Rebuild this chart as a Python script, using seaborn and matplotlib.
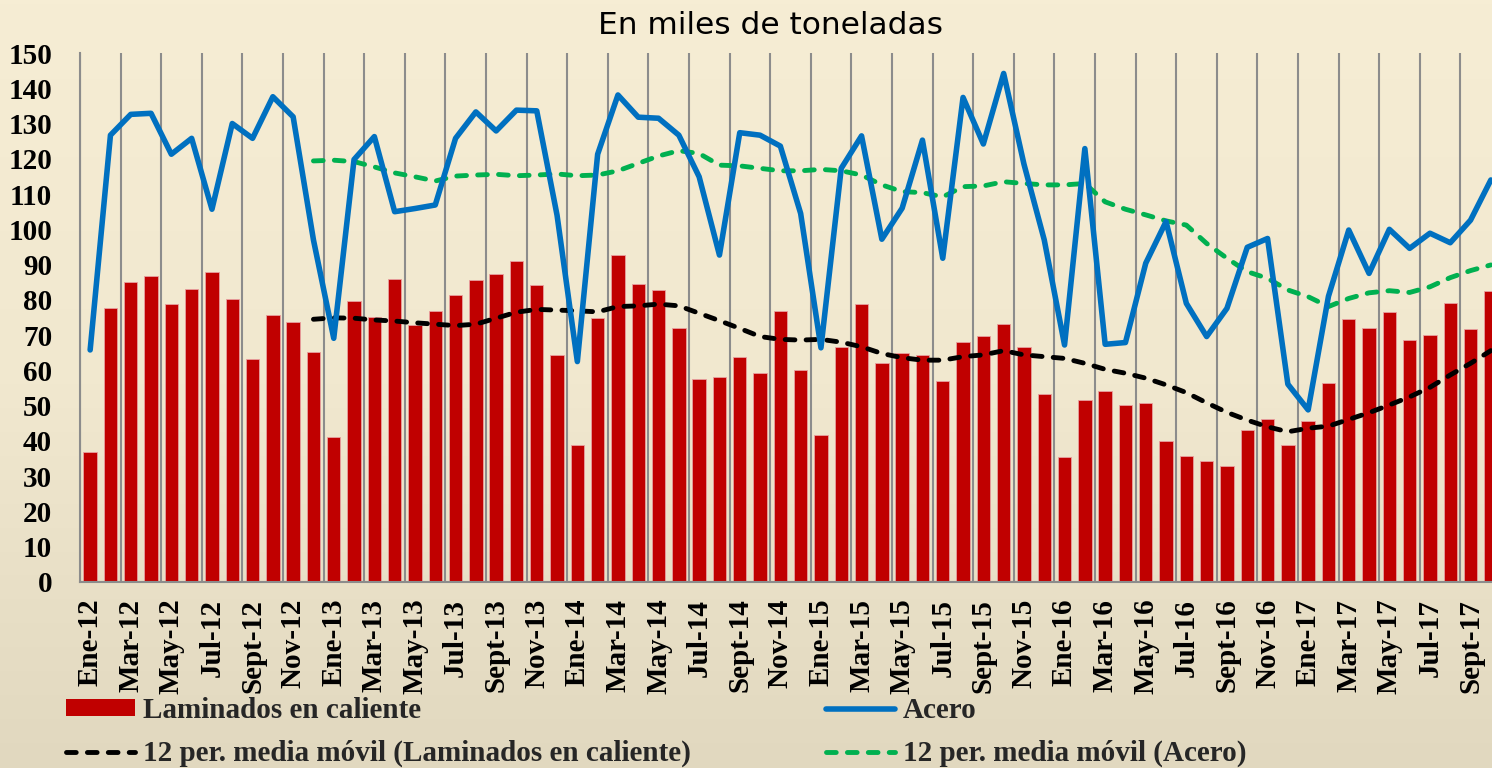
import numpy as np
import matplotlib
matplotlib.use('Agg')
import matplotlib.pyplot as plt
import matplotlib.colors as mcolors
from matplotlib.patches import Patch
from matplotlib.lines import Line2D
from matplotlib.font_manager import FontProperties
import seaborn as sns

# Meses Ene-12 .. Oct-17
MESES = ['Ene', 'Feb', 'Mar', 'Abr', 'May', 'Jun', 'Jul', 'Ago', 'Sept', 'Oct', 'Nov', 'Dic']
meses = [f"{m}-{a}" for a in range(12, 18) for m in MESES][:70]

# Laminados en caliente (miles de toneladas)
laminados = [37.0, 77.6, 85.1, 86.8, 78.7, 83.2, 88.0, 80.3, 63.1, 75.6, 73.7, 65.2,
             41.0, 79.8, 75.2, 85.8, 72.9, 76.9, 81.4, 85.6, 87.3, 91.0, 84.3, 64.3,
             38.8, 74.9, 92.6, 84.6, 82.8, 72.1, 57.5, 58.1, 63.8, 59.3, 76.8, 60.2,
             41.8, 66.6, 78.7, 62.1, 64.8, 64.3, 57.0, 68.0, 69.7, 73.1, 66.5, 53.4,
             35.4, 51.7, 54.2, 50.1, 50.7, 39.9, 35.8, 34.2, 32.8, 43.0, 46.2, 38.8,
             45.6, 56.3, 74.7, 71.9, 76.7, 68.6, 70.1, 79.0, 71.7, 82.5]

# Acero (miles de toneladas)
acero = [65.8, 126.7, 132.6, 132.9, 121.3, 125.8, 105.7, 130.0, 125.8, 137.6, 131.9, 97.0,
         69.1, 119.8, 126.3, 105.0, 105.9, 106.9, 125.8, 133.3, 127.9, 133.8, 133.6, 104.0,
         62.5, 121.3, 138.1, 131.8, 131.5, 126.7, 114.9, 92.7, 127.4, 126.7, 123.6, 104.5,
         66.4, 117.3, 126.5, 97.2, 106.0, 125.3, 91.8, 137.4, 124.2, 144.2, 118.5, 97.0,
         67.2, 122.9, 67.4, 67.9, 90.4, 102.2, 79.0, 69.6, 77.6, 94.9, 97.4, 56.1,
         48.8, 81.0, 99.8, 87.5, 100.0, 94.6, 98.9, 96.2, 102.6, 114.0]

# Medias moviles de 12 periodos (desde Dic-12)
mm_laminados = [74.5, 74.9, 74.8, 74.3, 74.0, 73.5, 73.1, 72.7, 73.1, 74.8,
                76.5, 77.3, 77.1, 76.9, 76.6, 78.1, 78.3, 78.8, 78.3, 76.2,
                74.1, 71.9, 69.6, 68.8, 68.6, 68.8, 68.0, 66.7, 64.8, 63.6,
                62.9, 62.9, 63.9, 64.4, 65.6, 64.4, 63.9, 63.4, 62.0, 60.3,
                59.2, 57.8, 55.9, 53.7, 50.8, 48.1, 45.9, 44.0, 42.6, 43.6,
                44.2, 46.1, 48.0, 50.2, 52.5, 55.2, 58.7, 62.0, 65.6]
mm_acero = [119.4, 119.6, 119.2, 117.7, 116.0, 114.9, 113.7, 115.1, 115.4, 115.6,
            115.2, 115.4, 115.7, 115.2, 115.4, 116.6, 118.7, 120.8, 122.3, 121.5,
            118.2, 118.0, 117.3, 116.6, 116.6, 117.0, 116.6, 115.4, 112.6, 110.7,
            110.4, 109.2, 112.1, 112.3, 113.5, 113.0, 112.6, 112.6, 113.0, 107.8,
            105.7, 104.1, 102.4, 101.2, 96.0, 91.8, 88.0, 86.1, 82.8, 80.9,
            78.1, 80.4, 82.0, 82.6, 82.1, 83.7, 86.3, 88.3, 89.9]

ROJO = '#C00000'
AZUL = '#0070C0'
VERDE = '#00B050'
GRIS = '#8C8C8C'
FUENTE = 'Liberation Serif'
GUION = (0, (2.0, 2.3))

sns.set_theme(style='white')
plt.rcParams['font.family'] = ['DejaVu Sans']

fig = plt.figure(figsize=(14.92, 7.68), dpi=100)

# Fondo degradado
bg = fig.add_axes([0, 0, 1, 1], zorder=-10)
cmap = mcolors.LinearSegmentedColormap.from_list('bg', ['#F6EDD4', '#F1E8CF', '#E1D8BF'])
bg.imshow(np.linspace(0, 1, 256).reshape(-1, 1), aspect='auto', cmap=cmap,
          extent=[0, 1, 0, 1])
bg.set_axis_off()

ax = fig.add_axes([80 / 1492, 186 / 768, 1421 / 1492, 529 / 768])
ax.set_facecolor('none')

idx = np.arange(len(meses))
sns.barplot(x=meses, y=laminados, color=ROJO, saturation=1, width=0.66,
            edgecolor='#E8A0A0', linewidth=0.6, ax=ax, zorder=2)
sns.lineplot(x=idx, y=acero, color=AZUL, linewidth=4.0, ax=ax, zorder=4,
             solid_joinstyle='round', solid_capstyle='round')
sns.lineplot(x=idx[11:], y=mm_laminados, color='black', linewidth=3.5, ax=ax, zorder=3,
             linestyle=GUION, dash_capstyle='round')
sns.lineplot(x=idx[11:], y=mm_acero, color=VERDE, linewidth=3.5, ax=ax, zorder=3,
             linestyle=GUION, dash_capstyle='round')

ax.set_xlim(-0.5, 69.5)
ax.set_ylim(0, 150)
ax.set_yticks(np.arange(0, 151, 10))
ax.set_xticks(idx[::2])
ax.set_xticklabels(meses[::2], rotation=90, fontsize=21, fontweight='bold',
                   family=FUENTE, va='top')
for t in ax.get_yticklabels():
    t.set_fontsize(21)
    t.set_fontweight('bold')
    t.set_family(FUENTE)
ax.set_xticks(np.arange(-0.5, 70, 2), minor=True)
ax.grid(False)
ax.grid(which='minor', axis='x', color=GRIS, linewidth=1.5, zorder=0)
ax.set_axisbelow(True)
ax.tick_params(axis='x', which='both', length=0, pad=12, colors='black')
ax.tick_params(axis='y', length=8, width=1.5, color=GRIS, pad=12, labelcolor='black')
ax.set_xlabel('')
for s in ['top', 'right']:
    ax.spines[s].set_visible(False)
for s in ['left', 'bottom']:
    ax.spines[s].set_color(GRIS)
    ax.spines[s].set_linewidth(1.5)

fig.text(770 / 1492, 1 - 26 / 768, 'En miles de toneladas', ha='center', va='center',
         fontsize=22.5, color='black')

# Leyenda en dos columnas
fuente_ley = FontProperties(family=FUENTE, weight='bold', size=21)
h1 = [Patch(facecolor=ROJO, edgecolor='none'),
      Line2D([0], [0], color='black', lw=3.5, linestyle=GUION, dash_capstyle='round')]
h2 = [Line2D([0], [0], color=AZUL, lw=4.0, solid_capstyle='round'),
      Line2D([0], [0], color=VERDE, lw=3.5, linestyle=GUION, dash_capstyle='round')]
kw = dict(loc='upper left', frameon=False, prop=fuente_ley, borderpad=0, borderaxespad=0,
          handlelength=2.35, handleheight=0.52, handletextpad=0.28, labelspacing=0.55)
fig.legend(h1, ['Laminados en caliente', '12 per. media móvil (Laminados en caliente)'],
           bbox_to_anchor=(66 / 1492, 1 - 697 / 768), **kw)
fig.legend(h2, ['Acero', '12 per. media móvil (Acero)'],
           bbox_to_anchor=(826 / 1492, 1 - 697 / 768), **kw)

fig.savefig('out.png', dpi=100)
